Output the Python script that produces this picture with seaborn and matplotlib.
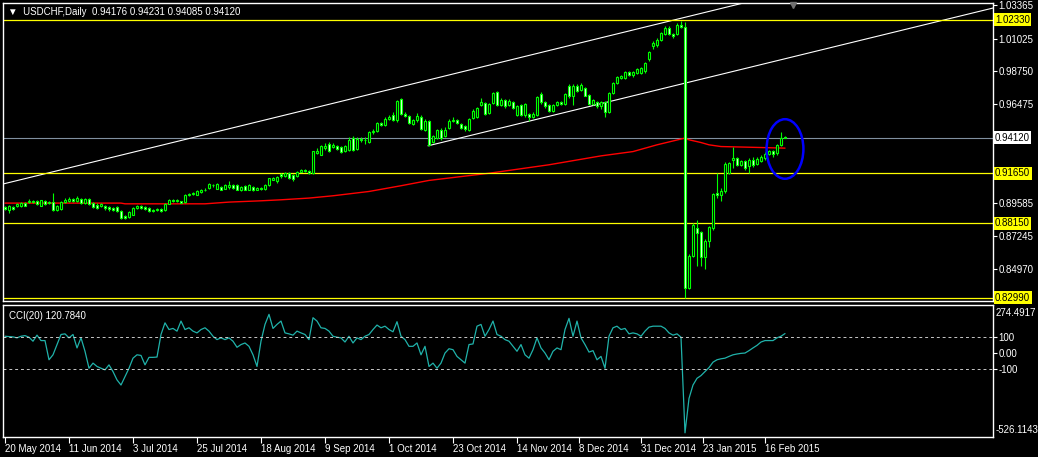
# USDCHF daily chart (MT4 style) with CCI(20) sub window
import numpy as np
import pandas as pd
import matplotlib
matplotlib.use('Agg')
import matplotlib.pyplot as plt
import seaborn as sns
from matplotlib.patches import Ellipse

# ---- data ----
opens = [
    .8929, .8906, .8927, .8934, .8934, .8957, .8962, .8973, .8969, .8938,
    .8969, .8964, .8962, .8911, .8915, .8964, .8969, .8985, .8969, .8985,
    .8957, .8985, .8957, .8945, .8938, .8934, .8929, .8922, .8929, .8899,
    .8865, .8857, .8876, .8922, .8934, .8929, .8922, .8911, .8906, .8915,
    .8906, .8952, .8978, .8969, .8969, .8966, .9010, .9020, .9015, .9035,
    .9045, .9061, .9080, .9057, .9069, .9057, .9069, .9085, .9085, .9050,
    .9073, .9050, .9069, .9050, .9062, .9057, .9080, .9120, .9110, .9163,
    .9143, .9170, .9152, .9148, .9177, .9187, .9180, .9166, .9305, .9294,
    .9340, .9370, .9347, .9352, .9347, .9317, .9328, .9410, .9333, .9405,
    .9394, .9382, .9451, .9456, .9514, .9500, .9544, .9570, .9533, .9681,
    .9579, .9565, .9505, .9533, .9560, .9468, .9530, .9386, .9414, .9468,
    .9421, .9479, .9530, .9537, .9507, .9495, .9468, .9549, .9560, .9640,
    .9654, .9584, .9654, .9730, .9642, .9677, .9637, .9660, .9572, .9642,
    .9572, .9577, .9560, .9572, .9718, .9660, .9642, .9600, .9637, .9660,
    .9645, .9774, .9706, .9774, .9746, .9758, .9711, .9646, .9660, .9630,
    .9660, .9591, .9723, .9792, .9830, .9827, .9869, .9846, .9862, .9862,
    .9874, .9962, 1.0048, 1.0060, 1.0090, 1.0136, 1.0175, 1.0136, 1.0136, 1.0199,
    1.0187, .8366, .8586, .8784, .8753, .8582, .8691, .8784, .9027, .9015,
    .9039, .9166, .9256, .9270, .9224, .9247, .9217, .9259, .9231, .9247,
    .9270, .9300, .9317, .9305, .9363, .94176]
highs = [
    .8938, .8945, .8934, .8957, .8964, .8966, .8985, .8980, .8976, .8980,
    .8980, .8973, .9027, .8941, .8969, .8992, .8999, .8995, .9003, .8995,
    .8995, .8995, .8962, .8955, .8957, .8941, .8934, .8929, .8934, .8906,
    .8872, .8899, .8927, .8941, .8941, .8936, .8927, .8915, .8925, .8920,
    .8957, .8985, .8983, .8983, .8973, .9020, .9030, .9033, .9045, .9052,
    .9060, .9100, .9092, .9095, .9075, .9092, .9108, .9090, .9092, .9075,
    .9080, .9092, .9075, .9069, .9069, .9090, .9134, .9140, .9145, .9170,
    .9175, .9175, .9160, .9182, .9196, .9196, .9187, .9322, .9340, .9360,
    .9375, .9380, .9375, .9360, .9352, .9360, .9420, .9425, .9415, .9420,
    .9415, .9458, .9470, .9520, .9525, .9555, .9570, .9590, .9675, .9690,
    .9590, .9572, .9545, .9585, .9570, .9545, .9535, .9430, .9475, .9480,
    .9485, .9540, .9556, .9545, .9515, .9500, .9550, .9610, .9625, .9688,
    .9660, .9655, .9730, .9740, .9690, .9685, .9680, .9670, .9640, .9650,
    .9655, .9585, .9590, .9700, .9730, .9665, .9650, .9645, .9670, .9670,
    .9725, .9790, .9785, .9790, .9795, .9765, .9715, .9685, .9668, .9670,
    .9670, .9730, .9800, .9845, .9850, .9880, .9880, .9878, .9900, .9905,
    .9940, 1.0020, 1.0085, 1.0105, 1.0150, 1.0190, 1.0190, 1.0145, 1.0215, 1.0225,
    1.0222, .8600, .8815, .8837, .8760, .8705, .8800, .9030, .9166, .9060,
    .9240, .9245, .9347, .9280, .9255, .9260, .9270, .9275, .9275, .9290,
    .9310, .9325, .9325, .9370, .9449, .94231]
lows = [
    .8906, .8887, .8906, .8929, .8929, .8934, .8957, .8957, .8943, .8934,
    .8943, .8950, .8899, .8904, .8911, .8957, .8962, .8965, .8962, .8950,
    .8950, .8945, .8920, .8915, .8927, .8911, .8904, .8904, .8894, .8846,
    .8846, .8850, .8871, .8918, .8915, .8911, .8894, .8897, .8904, .8897,
    .8904, .8948, .8962, .8964, .8955, .8960, .9005, .9012, .9010, .9027,
    .9038, .9055, .9070, .9052, .9045, .9052, .9055, .9057, .9045, .9043,
    .9045, .9045, .9043, .9045, .9045, .9050, .9075, .9115, .9100, .9135,
    .9138, .9126, .9113, .9140, .9173, .9175, .9161, .9161, .9298, .9290,
    .9330, .9310, .9340, .9325, .9305, .9310, .9320, .9320, .9325, .9385,
    .9370, .9375, .9440, .9450, .9495, .9495, .9535, .9530, .9525, .9570,
    .9555, .9505, .9500, .9525, .9465, .9460, .9352, .9375, .9405, .9400,
    .9415, .9470, .9520, .9505, .9472, .9460, .9460, .9540, .9550, .9630,
    .9570, .9575, .9645, .9635, .9635, .9620, .9630, .9615, .9565, .9565,
    .9560, .9530, .9550, .9565, .9650, .9620, .9590, .9590, .9630, .9640,
    .9640, .9690, .9640, .9730, .9740, .9700, .9640, .9640, .9620, .9610,
    .9555, .9585, .9715, .9785, .9825, .9820, .9840, .9835, .9855, .9855,
    .9865, .9950, 1.0030, 1.0045, 1.0085, 1.0130, 1.0125, 1.0110, 1.0130, 1.0180,
    .8296, .8360, .8580, .8517, .8517, .8495, .8650, .8770, .8992, .8970,
    .9030, .9160, .9201, .9215, .9215, .9190, .9166, .9210, .9220, .9240,
    .9260, .9290, .9280, .9295, .9355, .94085]
closes = [
    .8915, .8934, .8918, .8950, .8957, .8938, .8973, .8964, .8950, .8976,
    .8950, .8957, .8906, .8934, .8962, .8980, .8985, .8975, .8992, .8957,
    .8985, .8952, .8929, .8922, .8950, .8922, .8915, .8911, .8899, .8853,
    .8853, .8892, .8922, .8934, .8922, .8915, .8899, .8904, .8918, .8904,
    .8952, .8980, .8969, .8978, .8960, .9015, .9022, .9027, .9038, .9045,
    .9050, .9091, .9082, .9089, .9050, .9085, .9085, .9062, .9050, .9069,
    .9050, .9085, .9050, .9062, .9052, .9085, .9129, .9131, .9138, .9143,
    .9170, .9131, .9122, .9177, .9189, .9180, .9166, .9317, .9317, .9352,
    .9352, .9317, .9363, .9333, .9310, .9352, .9398, .9328, .9405, .9394,
    .9398, .9451, .9458, .9514, .9500, .9544, .9560, .9537, .9669, .9579,
    .9567, .9514, .9537, .9565, .9472, .9530, .9363, .9421, .9468, .9410,
    .9468, .9530, .9537, .9514, .9479, .9470, .9544, .9600, .9618, .9660,
    .9577, .9647, .9723, .9642, .9677, .9630, .9670, .9623, .9630, .9572,
    .9647, .9560, .9577, .9693, .9660, .9630, .9600, .9637, .9660, .9650,
    .9718, .9700, .9774, .9739, .9781, .9706, .9646, .9677, .9630, .9660,
    .9591, .9723, .9792, .9834, .9840, .9869, .9846, .9869, .9892, .9897,
    .9932, 1.0013, 1.0071, 1.0094, 1.0141, 1.0175, 1.0136, 1.0122, 1.0199, 1.0187,
    .8366, .8586, .8807, .8749, .8582, .8695, .8790, .9020, .9015, .9043,
    .9231, .9236, .9270, .9224, .9247, .9201, .9259, .9224, .9264, .9275,
    .9300, .9317, .9296, .9363, .9410, .94120]

cci = [
    104, 102, 100, 94, 104, 108, 98, 73, 111, 77,
    77, -43, -12, 52, 115, 119, 94, 115, 31, 94,
    10, -96, -64, -85, -96, -106, -75, -117, -169, -201,
    -148, -96, -33, -12, -16, -75, -28, -28, -26, 115,
    188, 146, 153, 136, 199, 146, 157, 136, 125, 146,
    157, 136, 104, 83, 94, 83, 94, 73, 35, 52,
    62, 41, -12, -85, 73, 178, 241, 153, 178, 199,
    125, 119, 111, 136, 125, 115, 83, 220, 199, 157,
    153, 136, 104, 98, 94, 68, 104, 62, 94, 83,
    104, 115, 146, 174, 157, 167, 146, 132, 195, 104,
    83, 41, 41, 62, -12, 41, -85, -64, -96, -64,
    -1, 26, 20, -22, -43, -64, 52, 56, 167, 178,
    104, 146, 199, 115, 104, 83, 73, 41, 10, 52,
    -12, -33, 20, 94, 31, -1, -43, 10, 31, 20,
    146, 216, 104, 199, 94, 52, 5, 14, -43, -22,
    -96, 104, 157, 167, 146, 153, 119, 125, 119, 104,
    136, 161, 167, 167, 167, 153, 125, 111, 119, 98,
    -500, -285, -201, -159, -142, -117, -92, -58, -43, -37,
    -33, -22, -12, -7, -3, -1, 14, 31, 47, 68,
    77, 77, 77, 94, 104, 120.784]

# red moving average, read at its turning points (bar index, price)
ma_idx = [0, 29, 30, 50, 56, 64, 69, 76, 82, 91, 99, 106, 121, 136, 149, 157, 163, 170, 171, 174, 176, 179, 185, 195]
ma_val = [.8957, .8957, .8952, .8952, .8964, .8973, .8980, .8992, .9008, .9038, .9078, .9115, .9165,
          .9224, .9286, .9316, .9363, .9410, .9398, .9379, .9363, .9351, .9347, .9340]

# white channel lines (bar index, price)
chan_up_x = [-0.5, 247]
chan_up_y = [.9090, 1.0776]
chan_lo_x = [105.75, 247]
chan_lo_y = [.9356, 1.0316]

yellow_levels = [1.02330, 0.91650, 0.88150, 0.82990]
last_price = 0.94120
price_ticks = [1.03365, 1.01025, 0.98750, 0.96475, 0.89585, 0.87245, 0.84970]

date_pos = [0, 16, 32, 48, 64, 80, 96, 112, 128, 143.5, 159, 174.5, 190]
date_lbl = ['20 May 2014', '11 Jun 2014', '3 Jul 2014', '25 Jul 2014', '18 Aug 2014',
            '9 Sep 2014', '1 Oct 2014', '23 Oct 2014', '14 Nov 2014', '8 Dec 2014',
            '31 Dec 2014', '23 Jan 2015', '16 Feb 2015']

title = '\u25bc  USDCHF,Daily  0.94176 0.94231 0.94085 0.94120'

# ---- style ----
sns.set_theme(style='dark', rc={'axes.facecolor': 'black', 'figure.facecolor': 'black',
                                'axes.edgecolor': 'white', 'axes.grid': False})
plt.rcParams['font.family'] = ['Liberation Sans', 'DejaVu Sans']

W, H = 1038, 457
fig = plt.figure(figsize=(W / 100, H / 100), dpi=100, facecolor='black')
ax = fig.add_axes([3 / W, 1 - 301 / H, 990 / W, 298 / H])
ax2 = fig.add_axes([3 / W, 1 - 437 / H, 990 / W, 132 / H])

df = pd.DataFrame({'o': opens, 'h': highs, 'l': lows, 'c': closes})
df['x'] = np.arange(len(df))
df['bull'] = df['c'] >= df['o']
df['bot'] = df[['o', 'c']].min(axis=1)
df['ht'] = (df['c'] - df['o']).abs().clip(lower=0.00025)

lime = '#00ff00'
ax.vlines(df['x'], df['l'], df['h'], color=lime, lw=0.8, zorder=3)
ax.bar(df['x'], df['ht'], bottom=df['bot'], width=0.5,
       color=np.where(df['bull'], 'black', '#e6ffe6'), edgecolor=lime, linewidth=0.8, zorder=4)

sns.lineplot(x=ma_idx, y=ma_val, ax=ax, color='red', lw=1.0, legend=False, zorder=2)
ax.plot(chan_up_x, chan_up_y, color='white', lw=0.8, zorder=2)
ax.plot(chan_lo_x, chan_lo_y, color='white', lw=0.8, zorder=2)
for lv in yellow_levels:
    ax.axhline(lv, color='yellow', lw=0.9, zorder=2)
ax.axhline(last_price, color='#8090a0', lw=0.8, zorder=1)

ax.add_patch(Ellipse((195, 0.9334), width=9.2, height=0.0415, fill=False,
                     edgecolor='#0000ff', lw=1.8, zorder=5))
ax.plot([197], [1.0337], marker='v', color='#707070', ms=5, zorder=5, clip_on=False)

ax.set_xlim(-0.5, 247)
ax.set_ylim(0.8275, 1.0351)
ax.yaxis.tick_right()
ax.set_yticks(price_ticks)
ax.set_yticklabels([f'{v:.5f}' for v in price_ticks])
ax.tick_params(axis='y', right=True, left=False, length=3, width=0.8, color='white',
               labelcolor='white', labelsize=7, pad=1)
ax.tick_params(axis='x', bottom=False, labelbottom=False)
ytr = ax.get_yaxis_transform()
for lv in yellow_levels:
    ax.text(1.002, lv, f'{lv:.5f}', transform=ytr, va='center', ha='left', fontsize=7,
            color='black', bbox=dict(boxstyle='square,pad=0.15', fc='yellow', ec='none'),
            clip_on=False)
ax.text(1.002, last_price, f'{last_price:.5f}', transform=ytr, va='center', ha='left',
        fontsize=7, color='black', bbox=dict(boxstyle='square,pad=0.15', fc='white', ec='none'),
        clip_on=False)
ax.text(0.005, 0.970, title, transform=ax.transAxes, color='white', fontsize=7, va='center')

# ---- CCI window ----
sns.lineplot(x=np.arange(len(cci)), y=cci, ax=ax2, color='#20b2aa', lw=0.9, legend=False)
for lv in [100, -100]:
    ax2.axhline(lv, color='#c8c8c8', lw=0.7, ls=(0, (3, 3)))
ax2.set_xlim(-0.5, 247)
ax2.set_ylim(-526.1143, 299.5)
ax2.yaxis.tick_right()
ax2.set_yticks([100, 0, -100])
ax2.set_yticklabels(['100', '0.00', '-100'])
ax2.tick_params(axis='y', right=True, left=False, length=3, width=0.8, color='white',
                labelcolor='white', labelsize=7, pad=1)
ax2.text(1.003, 1 - 8 / 132, '274.4917', transform=ax2.transAxes, color='white',
         fontsize=7, va='center', ha='left')
ax2.text(1.003, 7 / 132, '-526.1143', transform=ax2.transAxes, color='white',
         fontsize=7, va='center', ha='left')
ax2.text(0.006, 0.917, 'CCI(20) 120.7840', transform=ax2.transAxes, color='white',
         fontsize=7, va='center')
ax2.set_xticks(date_pos)
ax2.set_xticklabels(date_lbl)
ax2.tick_params(axis='x', bottom=True, length=4, width=0.8, color='white',
                labelcolor='white', labelsize=7, pad=1)
for lab in ax2.get_xticklabels():
    lab.set_ha('left')

for a in (ax, ax2):
    a.set_xlabel('')
    a.set_ylabel('')
    for sp in a.spines.values():
        sp.set_color('white')
        sp.set_linewidth(1.0)

fig.savefig('out.png', dpi=100, facecolor='black')
